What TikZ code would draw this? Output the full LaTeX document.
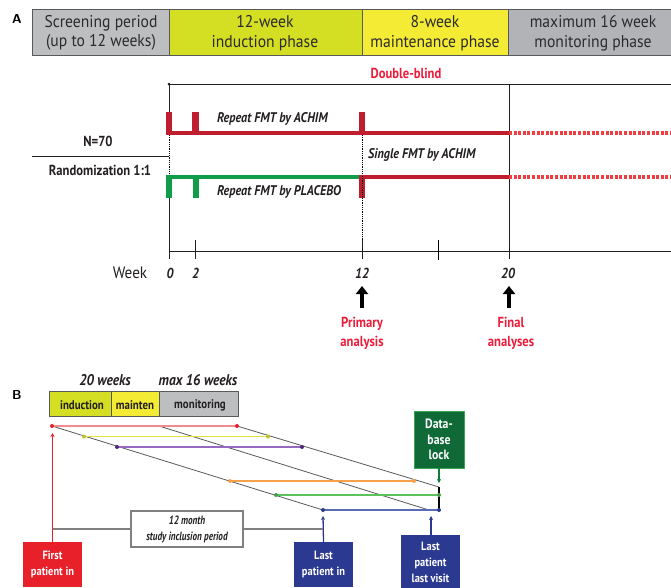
\documentclass[tikz,border=0pt]{standalone}
\usepackage{fontspec}
\setmainfont{PT Sans}
\newfontfamily\cf[FakeStretch=0.87]{PT Sans}
\newfontfamily\hf[FakeStretch=0.92]{PT Sans}
\newfontfamily\nf[FakeStretch=0.76]{PT Sans}
\usetikzlibrary{arrows.meta}
\definecolor{hgray}{HTML}{BCBEC0}
\definecolor{hgray2}{HTML}{B1B3B6}
\definecolor{lime}{HTML}{D4DE23}
\definecolor{yel}{HTML}{F4EB35}
\definecolor{frame}{HTML}{58595B}
\definecolor{dred}{HTML}{BE1E2D}
\definecolor{lred}{HTML}{EF3E42}
\definecolor{grn}{HTML}{0F9D48}
\definecolor{txt}{HTML}{231F20}
\definecolor{hdrtxt}{HTML}{2B2B2D}
\definecolor{redtxt}{HTML}{ED1C3A}
\definecolor{salmon}{HTML}{F28B8B}
\definecolor{byel}{HTML}{E2E23A}
\definecolor{bpur}{HTML}{9569BF}
\definecolor{dpur}{HTML}{4B2A7B}
\definecolor{borg}{HTML}{F7A24B}
\definecolor{bgrn}{HTML}{5CC35C}
\definecolor{bblu}{HTML}{5A6BB5}
\definecolor{navy}{HTML}{2B3990}
\definecolor{dbox}{HTML}{0F6A38}
\definecolor{dboxb}{HTML}{3BA552}
\definecolor{fred}{HTML}{E8202A}
\tikzset{
  hdr/.style={font=\hf\fontsize{17}{19.5}\selectfont, text=hdrtxt, align=center, inner sep=0},
  arm/.style={font=\cf\bfseries\itshape\fontsize{14}{15}\selectfont, text=txt, inner sep=0, anchor=west},
  bold/.style={font=\cf\bfseries\fontsize{14.5}{15}\selectfont, text=txt, inner sep=0, align=center},
  redlbl/.style={font=\cf\bfseries\fontsize{14.5}{19}\selectfont, text=redtxt, inner sep=0, align=center},
  wk/.style={font=\cf\bfseries\itshape\fontsize{14.5}{15}\selectfont, text=txt, inner sep=0},
  thin/.style={line width=0.8pt, draw=txt},
  tick/.style={line width=1pt, draw=txt},
  bigarrow/.style={line width=4pt, -{Triangle[width=12pt,length=8pt]}, draw=black},
  reddot/.style={lred, line width=4pt, dash pattern=on 3pt off 1.6pt},
  bbar/.style={font=\cf\bfseries\fontsize{12.5}{13}\selectfont, text=txt, inner sep=0},
  bhead/.style={font=\cf\bfseries\itshape\fontsize{15.5}{16}\selectfont, text=txt, inner sep=0},
  pdot/.style={circle, inner sep=0, minimum size=4pt},
  wbox/.style={font=\cf\bfseries\fontsize{12}{16}\selectfont, text=white, align=center, inner sep=0, minimum width=59pt},
}
\begin{document}
\begin{tikzpicture}[x=1pt,y=-1pt]
\useasboundingbox (0,0) rectangle (671,587);
% ---------- Part A ----------
\node[font=\sffamily\bfseries\fontsize{13}{15}\selectfont, inner sep=0] (labA) at (17,19) {A};
\draw[fill=hgray, draw=frame, line width=0.9pt] (32.5,9.5) rectangle (169.5,55.5);
\draw[fill=lime, draw=frame, line width=0.9pt] (169.5,9.5) rectangle (362,55.5);
\draw[fill=yel, draw=frame, line width=0.9pt] (362,9.5) rectangle (508,55.5);
\draw[fill=hgray2, draw=frame, line width=0.9pt] (508,9.5) rectangle (672,55.5);
\node[hdr] (h1) at (101,33) {Screening period\\(up to 12 weeks)};
\node[hdr] (h2) at (265,33) {12-week\\induction phase};
\node[hdr] (h3) at (435,33) {8-week\\maintenance phase};
\node[hdr] (h4) at (593,33) {maximum 16 week\\monitoring phase};
\node[redlbl] (db) at (406,73) {Double-blind};

\coordinate (t0) at (169,84);
\coordinate (tend) at (671,84);
\draw[thin] (t0) -- (tend);
\fill[txt] (t0) circle (1.5);
% vertical at week 0
\coordinate (v0a) at (169,135);
\coordinate (v0b) at (169,177);
\coordinate (ax0) at (169,251);
\draw[thin] (t0) -- (v0a);
\draw[line width=0.8pt, densely dotted] (v0a) -- (v0b);
\draw[thin] (v0b) -- (ax0);
% vertical at week 20
\coordinate (t20) at (509,84);
\coordinate (ax20) at (509,251);
\draw[thin] (t20) -- (ax20);
% dotted at week 12
\coordinate (v12) at (362,135);
\coordinate (ax12) at (362,251);
\draw[line width=0.8pt, densely dotted] (v12) -- (ax12);

% red arm
\coordinate (r0) at (166,133);
\coordinate (r20) at (509,133);
\coordinate (rend) at (671,133);
\draw[dred, line width=4.5pt] (r0) -- (r20);
\draw[reddot] (r20) -- (rend);
\fill[dred] (166,112) rectangle (172,135);
\fill[dred] (192,112) rectangle (199,135);
\fill[dred] (358.5,112) rectangle (365,135);
\node[arm] (ra) at (217,119) {Repeat FMT by ACHIM};

% green arm
\coordinate (g0) at (166,177);
\coordinate (g12) at (362,177);
\coordinate (g20) at (509,177);
\coordinate (gend) at (671,177);
\draw[grn, line width=4.5pt] (g0) -- (g12);
\draw[dred, line width=4.5pt] (g12) -- (g20);
\draw[reddot] (g20) -- (gend);
\fill[grn] (166,175) rectangle (172,198);
\fill[grn] (193,175) rectangle (199,198);
\fill[dred] (358.5,175) rectangle (365,198);
\draw[line width=0.8pt, densely dotted, draw=black] (362,176) -- (362,199);
\node[arm] (sa) at (368,155) {Single FMT by ACHIM};
\node[arm] (pa) at (217,192) {Repeat FMT by PLACEBO};

% randomization
\coordinate (rl) at (32,156);
\coordinate (rr) at (169,156);
\draw[thin, line width=1pt] (rl) -- (rr);
\node[bold] (n70) at (98,141) {N=70};
\node[bold] (rand) at (100,170) {Randomization 1:1};

% axis
\coordinate (axend) at (671,251);
\draw[tick] (ax0) -- (axend);
\draw[tick] (169,240) -- (169,259);
\draw[tick] (195.5,240) -- (195.5,259);
\draw[tick] (362,240) -- (362,259);
\draw[line width=0.6pt] (438,240) -- (438,260);
\draw[tick] (509,240) -- (509,259);
\node[font=\hf\fontsize{16.5}{17}\selectfont, text=txt, inner sep=0] (week) at (130,273) {Week};
\node[wk] (w0) at (170,273) {0};
\node[wk] (w2) at (195.5,273) {2};
\node[wk] (w12) at (362,273) {12};
\node[wk] (w20) at (508,273) {20};
\coordinate (a12s) at (362,308);
\coordinate (a12e) at (362,286);
\coordinate (a20s) at (509,308);
\coordinate (a20e) at (509,286);
\draw[bigarrow] (a12s) -- (a12e);
\draw[bigarrow] (a20s) -- (a20e);
\node[redlbl] (prim) at (362,333) {Primary\\analysis};
\node[redlbl] (fin) at (511,333) {Final\\analyses};

% ---------- Part B ----------
\node[font=\sffamily\bfseries\fontsize{13}{15}\selectfont, inner sep=0] (labB) at (17,395) {B};
\node[bhead] (b20) at (105,380) {20 weeks};
\node[bhead] (b16) at (198,380) {max 16 weeks};
\draw[fill=lime, draw=frame, line width=0.9pt] (49,391) rectangle (111,416);
\draw[fill=yel, draw=frame, line width=0.9pt] (111,391) rectangle (159,416);
\draw[fill=hgray, draw=frame, line width=0.9pt] (159,391) rectangle (238,416);
\node[bbar] (bi) at (82,405) {induction};
\node[bbar] (bm) at (135,405) {mainten};
\node[bbar] (bo) at (200,405) {monitoring};

% patient rows
\coordinate (pr1) at (52,426);  \coordinate (pr2) at (237,426);
\coordinate (py1) at (84,436.5);  \coordinate (py2) at (268,436.5);
\coordinate (pp1) at (117,447); \coordinate (pp2) at (302,447);
\coordinate (po1) at (230,481); \coordinate (po2) at (414,481);
\coordinate (pg1) at (276,495); \coordinate (pg2) at (439,495);
\coordinate (pb1) at (323,510); \coordinate (pb2) at (439,510);
\coordinate (mid1) at (159,426); \coordinate (mid2) at (429,510);
\coordinate (lk) at (439,487);
% diagonals
\draw[line width=0.8pt, draw=frame] (pr1) -- (pb1);
\draw[line width=0.8pt, draw=frame] (mid1) -- (mid2);
\draw[line width=0.8pt, draw=frame] (pr2) -- (lk);
% horizontals
\draw[salmon, line width=1.4pt] (pr1) -- (pr2);
\draw[byel, line width=1.4pt] (py1) -- (py2);
\draw[bpur, line width=1.4pt] (pp1) -- (pp2);
\draw[borg, line width=1.4pt] (po1) -- (po2);
\draw[bgrn, line width=1.4pt] (pg1) -- (pg2);
\draw[bblu, line width=1.4pt] (pb1) -- (pb2);
\draw[black, line width=1.8pt] (lk) -- (pb2);
% dots
\foreach \p in {pr1,pr2} \node[pdot, fill=fred] at (\p) {};
\foreach \p in {py1,py2} \node[pdot, fill=byel!85!black] at (\p) {};
\foreach \p in {pp1,pp2} \node[pdot, fill=dpur] at (\p) {};
\foreach \p in {po1,po2} \node[pdot, fill=borg] at (\p) {};
\foreach \p in {pg1,pg2} \node[pdot, fill=bgrn!80!black] at (\p) {};
\foreach \p in {pb1,pb2} \node[pdot, fill=navy] at (\p) {};

% database lock
\node[draw=dboxb, fill=dbox, line width=0.8pt, font=\cf\bfseries\fontsize{13.5}{15.5}\selectfont, text=white, align=center, minimum width=50pt, minimum height=57pt, inner sep=0] (lock) at (439,439.5) {Data-\\base\\lock};
\coordinate (lockp) at (439,483);
\draw[grn!80!black, line width=1.2pt, -{Stealth[length=4pt,width=4pt]}] (lock.south) -- (lockp);

% bottom boxes
\node[wbox, fill=fred, minimum height=45pt] (first) at (52.5,564.5) {First\\patient in};
\node[wbox, fill=navy, minimum height=45pt] (lastin) at (323.5,564.5) {Last\\patient in};
\node[wbox, fill=navy, minimum height=55pt] (lastv) at (430.5,562.5) {Last\\patient\\last visit};
\coordinate (fa) at (52.5,433);
\coordinate (la) at (323,516);
\coordinate (lva) at (431,516);
\draw[fred, line width=1.3pt, -{Stealth[length=4pt,width=4pt]}] (first.north) -- (fa);
\draw[navy, line width=1.3pt, -{Stealth[length=4pt,width=4pt]}] (lastin.north) -- (la);
\draw[navy, line width=1.3pt, -{Stealth[length=4pt,width=4pt]}] (lastv.north -| lva) -- (lva);
\coordinate (gl) at (52.5,529);
\coordinate (gr) at (323,529);
\draw[gray, line width=2.2pt] (gl) -- (gr);
\node[draw=gray, line width=1.4pt, fill=white, minimum width=112pt, minimum height=36pt, inner sep=0, font=\nf\bfseries\itshape\fontsize{12}{16}\selectfont, text=txt, align=center] (inc) at (187,529) {12 month\\study inclusion period};
\end{tikzpicture}
\end{document}
